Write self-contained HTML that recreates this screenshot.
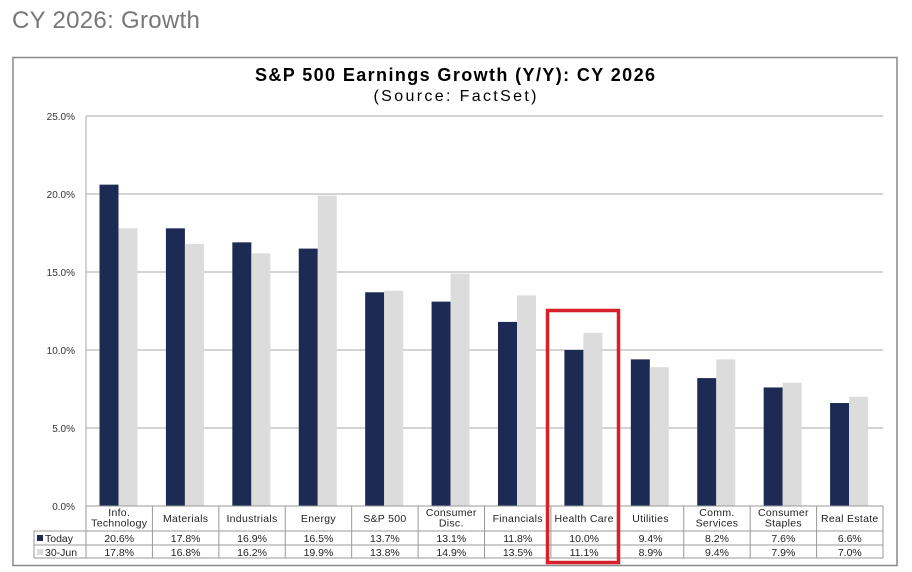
<!DOCTYPE html>
<html><head><meta charset="utf-8"><style>
body{margin:0;width:912px;height:572px;background:#fff;overflow:hidden;font-family:"Liberation Sans",sans-serif}
</style></head><body>
<div style="position:absolute;left:12px;top:7px;font-size:24px;letter-spacing:0.3px;color:#777">CY 2026: Growth</div>
<svg id="c" width="912" height="572" style="position:absolute;left:0;top:0" font-family="Liberation Sans, sans-serif"></svg>
<script>
const categories=[["Info.","Technology"],["Materials"],["Industrials"],["Energy"],["S&P 500"],["Consumer","Disc."],["Financials"],["Health Care"],["Utilities"],["Comm.","Services"],["Consumer","Staples"],["Real Estate"]];
const todayValues=[20.6,17.8,16.9,16.5,13.7,13.1,11.8,10.0,9.4,8.2,7.6,6.6];
const junValues=[17.8,16.8,16.2,19.9,13.8,14.9,13.5,11.1,8.9,9.4,7.9,7.0];
const yTicks=[0,5,10,15,20,25];
const NS="http://www.w3.org/2000/svg",svg=document.getElementById('c');
function el(t,a,p){const e=document.createElementNS(NS,t);for(const k in a)e.setAttribute(k,a[k]);(p||svg).appendChild(e);return e;}
const L=86,R=883,T=116,B=506,cw=(R-L)/categories.length;
const y=v=>B-(v/25)*(B-T);
const x=i=>L+i*cw;
let box=el('rect',{x:13,y:57.5,width:884,height:508,fill:'none',stroke:'#888','stroke-width':1.5});

let t1=el('text',{x:455,y:81,'text-anchor':'middle','font-size':18,'font-weight':'bold',fill:'#000',textLength:400,lengthAdjust:'spacing'});t1.textContent='S&P 500 Earnings Growth (Y/Y): CY 2026';

let t2=el('text',{x:455,y:101,'text-anchor':'middle','font-size':16,fill:'#000',textLength:163,lengthAdjust:'spacing'});t2.textContent='(Source: FactSet)';

yTicks.forEach(v=>{
 let g=el('line',{x1:L,x2:R,y1:y(v),y2:y(v),stroke:'#aaa','stroke-width':1});
 
 let tl=el('text',{x:75,y:y(v)+4,'text-anchor':'end','font-size':10,fill:'#333'});tl.textContent=v.toFixed(1)+'%';
 
});
el('line',{x1:L,x2:L,y1:T,y2:B,stroke:'#aaa'});
categories.forEach((c,i)=>{
 let b1=el('rect',{x:x(i)+13.5,y:y(todayValues[i]),width:19,height:B-y(todayValues[i]),fill:'#1c2a54'});
 
 let b2=el('rect',{x:x(i)+32.5,y:y(junValues[i]),width:19,height:B-y(junValues[i]),fill:'#dcdcdc'});
 
 const cx=x(i)+cw/2;
 let ct=el('text',{x:cx,'text-anchor':'middle','font-size':10.5,'letter-spacing':0.3,fill:'#222'});
 
 c.forEach((s,k)=>{let ts=el('tspan',{x:cx,y:(c.length>1?516+k*10.5:522)},ct);ts.textContent=s;});
 let v1=el('text',{x:cx,y:542,'text-anchor':'middle','font-size':10.5,fill:'#222'});v1.textContent=todayValues[i].toFixed(1)+'%';
 
 let v2=el('text',{x:cx,y:556,'text-anchor':'middle','font-size':10.5,fill:'#222'});v2.textContent=junValues[i].toFixed(1)+'%';
 
});
const tg='#999';
el('line',{x1:L,x2:R,y1:B,y2:B,stroke:tg});
[531,545,558].forEach(yy=>el('line',{x1:34,x2:R,y1:yy,y2:yy,stroke:tg}));
el('line',{x1:34,x2:34,y1:531,y2:558,stroke:tg});
for(let i=0;i<=categories.length;i++)el('line',{x1:x(i),x2:x(i),y1:B,y2:558,stroke:tg});
el('rect',{x:37,y:535,width:6,height:6,fill:'#1c2a54'});
el('rect',{x:37,y:549,width:6,height:6,fill:'#dcdcdc'});
let lg1=el('text',{x:45,y:542,'font-size':10.5,fill:'#222'});lg1.textContent='Today';

let lg2=el('text',{x:45,y:556,'font-size':10.5,fill:'#222'});lg2.textContent='30-Jun';

let hl=el('rect',{x:547.5,y:310.5,width:71,height:252,fill:'none',stroke:'#d8202a','stroke-width':3.5});

</script>
</body></html>
